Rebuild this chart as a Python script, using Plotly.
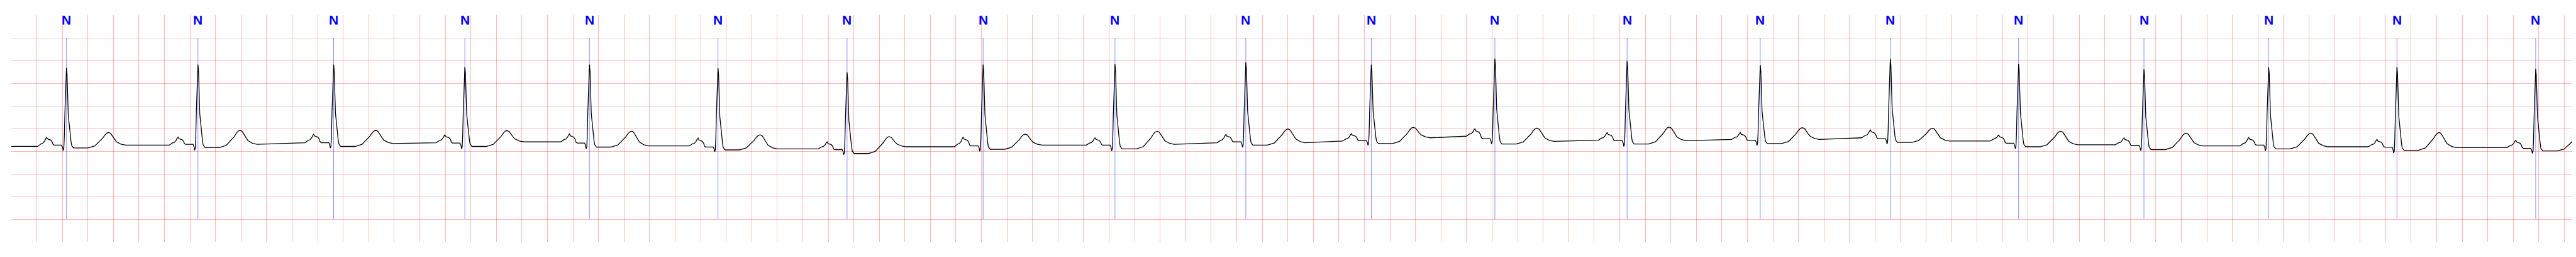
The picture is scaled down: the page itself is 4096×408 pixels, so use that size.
import plotly.graph_objects as go

# ---- Beat annotations (time of each beat in s, label) ----
ann_times = [0.432, 1.462, 2.525, 3.553, 4.529, 5.536, 6.547, 7.613, 8.646, 9.671,
             10.654, 11.622, 12.658, 13.701, 14.720, 15.725, 16.707, 17.684, 18.689, 19.776]
ann_labels = ["N", "N", "N", "N", "N", "N", "N", "N", "N", "N",
              "N", "N", "N", "N", "N", "N", "N", "N", "N", "N"]

# ---- Per-beat levels (mV) ----
pre_level = [0.105, 0.133, 0.187, 0.187, 0.205, 0.115, 0.050, 0.097, 0.133, 0.187,
             0.223, 0.330, 0.241, 0.259, 0.295, 0.223, 0.142, 0.115, 0.097, 0.079]
p_peak = [0.310, 0.310, 0.375, 0.360, 0.382, 0.288, 0.205, 0.310, 0.295, 0.368,
          0.386, 0.494, 0.411, 0.411, 0.469, 0.357, 0.295, 0.303, 0.259, 0.241]
pr_level = [0.133, 0.151, 0.187, 0.180, 0.180, 0.093, 0.035, 0.115, 0.133, 0.205,
            0.230, 0.277, 0.230, 0.237, 0.277, 0.176, 0.125, 0.133, 0.089, 0.061]
q_level = [0.014, 0.021, 0.068, 0.050, 0.050, -0.015, -0.080, -0.004, 0.006, 0.086,
           0.129, 0.158, 0.104, 0.126, 0.158, 0.053, 0.014, 0.006, -0.044, -0.051]
r_peak = [1.837, 1.910, 1.910, 1.856, 1.910, 1.837, 1.740, 1.910, 1.917, 1.957,
          1.910, 2.040, 1.986, 1.899, 2.033, 1.921, 1.805, 1.852, 1.856, 1.815]
st_level = [0.072, 0.079, 0.104, 0.104, 0.090, 0.028, -0.052, 0.042, 0.050, 0.133,
            0.169, 0.158, 0.158, 0.169, 0.194, 0.097, 0.035, 0.050, 0.020, 0.005]
t_peak = [0.411, 0.458, 0.458, 0.454, 0.440, 0.360, 0.321, 0.375, 0.440, 0.490,
          0.526, 0.508, 0.530, 0.519, 0.505, 0.440, 0.396, 0.396, 0.411, 0.320]
tp_level = [0.133, 0.151, 0.169, 0.205, 0.115, 0.050, 0.097, 0.133, 0.151, 0.187,
            0.295, 0.216, 0.230, 0.259, 0.223, 0.142, 0.115, 0.097, 0.079, 0.080]

# ---- Beat shape: time offsets from the beat (s) and fractions ----
p_rise_dt = [-0.225, -0.199, -0.185, -0.172, -0.163, -0.156]
p_rise_f = [0.0, 0.28, 0.35, 0.57, 0.86, 1.0]
p_fall_dt = [-0.149, -0.136, -0.123, -0.113, -0.105, -0.096]
p_fall_f = [0.78, 0.71, 0.64, 0.42, 0.08, 0.0]
pr_dt = [-0.060, -0.038]
q_dt = [-0.030, -0.026]
q_f = [0.45, 1.0]
r_rise_dt = [-0.021, -0.017, -0.0126, -0.008, -0.0035, 0.0]
r_rise_f = [0.024, 0.16, 0.44, 0.72, 0.95, 1.0]
r_fall_dt = [0.0045, 0.009, 0.0143, 0.0188, 0.025, 0.030, 0.0357, 0.041]
r_fall_f = [0.921, 0.636, 0.408, 0.338, 0.208, 0.167, 0.08, 0.03]
st_dt = [0.055, 0.168]
t_rise_dt = [0.222, 0.249, 0.284, 0.302, 0.316, 0.329]
t_rise_f = [0.13, 0.35, 0.64, 0.85, 0.96, 1.0]
t_fall_dt = [0.338, 0.347, 0.374, 0.392, 0.427, 0.463]
t_fall_f = [0.98, 0.92, 0.49, 0.26, 0.08, 0.0]

# ---- Build the trace ----
xs = [0.0]
ys = [pre_level[0]]
for i, t0 in enumerate(ann_times):
    pre, P, PR, Q = pre_level[i], p_peak[i], pr_level[i], q_level[i]
    R, ST, T, TP = r_peak[i], st_level[i], t_peak[i], tp_level[i]
    for d, f in zip(p_rise_dt, p_rise_f):
        xs.append(t0 + d); ys.append(pre + f * (P - pre))
    for d, f in zip(p_fall_dt, p_fall_f):
        xs.append(t0 + d); ys.append(PR + f * (P - PR))
    for d in pr_dt:
        xs.append(t0 + d); ys.append(PR)
    for d, f in zip(q_dt, q_f):
        xs.append(t0 + d); ys.append(PR + f * (Q - PR))
    for d, f in zip(r_rise_dt, r_rise_f):
        xs.append(t0 + d); ys.append(Q + f * (R - Q))
    for d, f in zip(r_fall_dt, r_fall_f):
        xs.append(t0 + d); ys.append(ST + f * (R - ST))
    for d in st_dt:
        xs.append(t0 + d); ys.append(ST)
    for d, f in zip(t_rise_dt, t_rise_f):
        xs.append(t0 + d); ys.append(ST + f * (T - ST))
    for d, f in zip(t_fall_dt, t_fall_f):
        xs.append(t0 + d); ys.append(TP + f * (T - TP))

# annotation marker lines
mx, my = [], []
for t in ann_times:
    mx += [t, t, None]
    my += [-1.5, 2.5, None]

fig = go.Figure()
fig.add_trace(go.Scatter(x=mx, y=my, mode="lines",
                         line=dict(color="rgba(0,0,255,0.45)", width=1),
                         hoverinfo="skip", showlegend=False))
fig.add_trace(go.Scatter(x=xs, y=ys, mode="lines",
                         line=dict(color="black", width=1.3),
                         showlegend=False))

for t, lab in zip(ann_times, ann_labels):
    fig.add_annotation(x=t, y=0.98, xref="x", yref="paper", text="<b>%s</b>" % lab,
                       showarrow=False, xanchor="center", yanchor="middle",
                       font=dict(family="Liberation Sans, Arial, sans-serif", size=21, color="#0000ff"))

grid_col = "rgba(255,0,0,0.27)"
fig.update_xaxes(range=[0, 20.062], tick0=0, dtick=0.2, showticklabels=False, ticks="",
                 showgrid=True, gridcolor=grid_col, gridwidth=1, zeroline=False, showline=False)
fig.update_yaxes(range=[-2.0, 3.0], tickvals=[-2.0, -1.5, -1.0, -0.5, 0.0, 0.5, 1.0, 1.5, 2.0, 2.5],
                 showticklabels=False, ticks="", showgrid=True, gridcolor=grid_col, gridwidth=1,
                 zeroline=False, showline=False)
fig.update_layout(width=4096, height=408, margin=dict(l=18, r=6, t=24, b=24),
                  paper_bgcolor="white", plot_bgcolor="white", showlegend=False)

fig.write_html("out.html", config={"displayModeBar": False},
               post_script="document.body.style.margin='0px';")
